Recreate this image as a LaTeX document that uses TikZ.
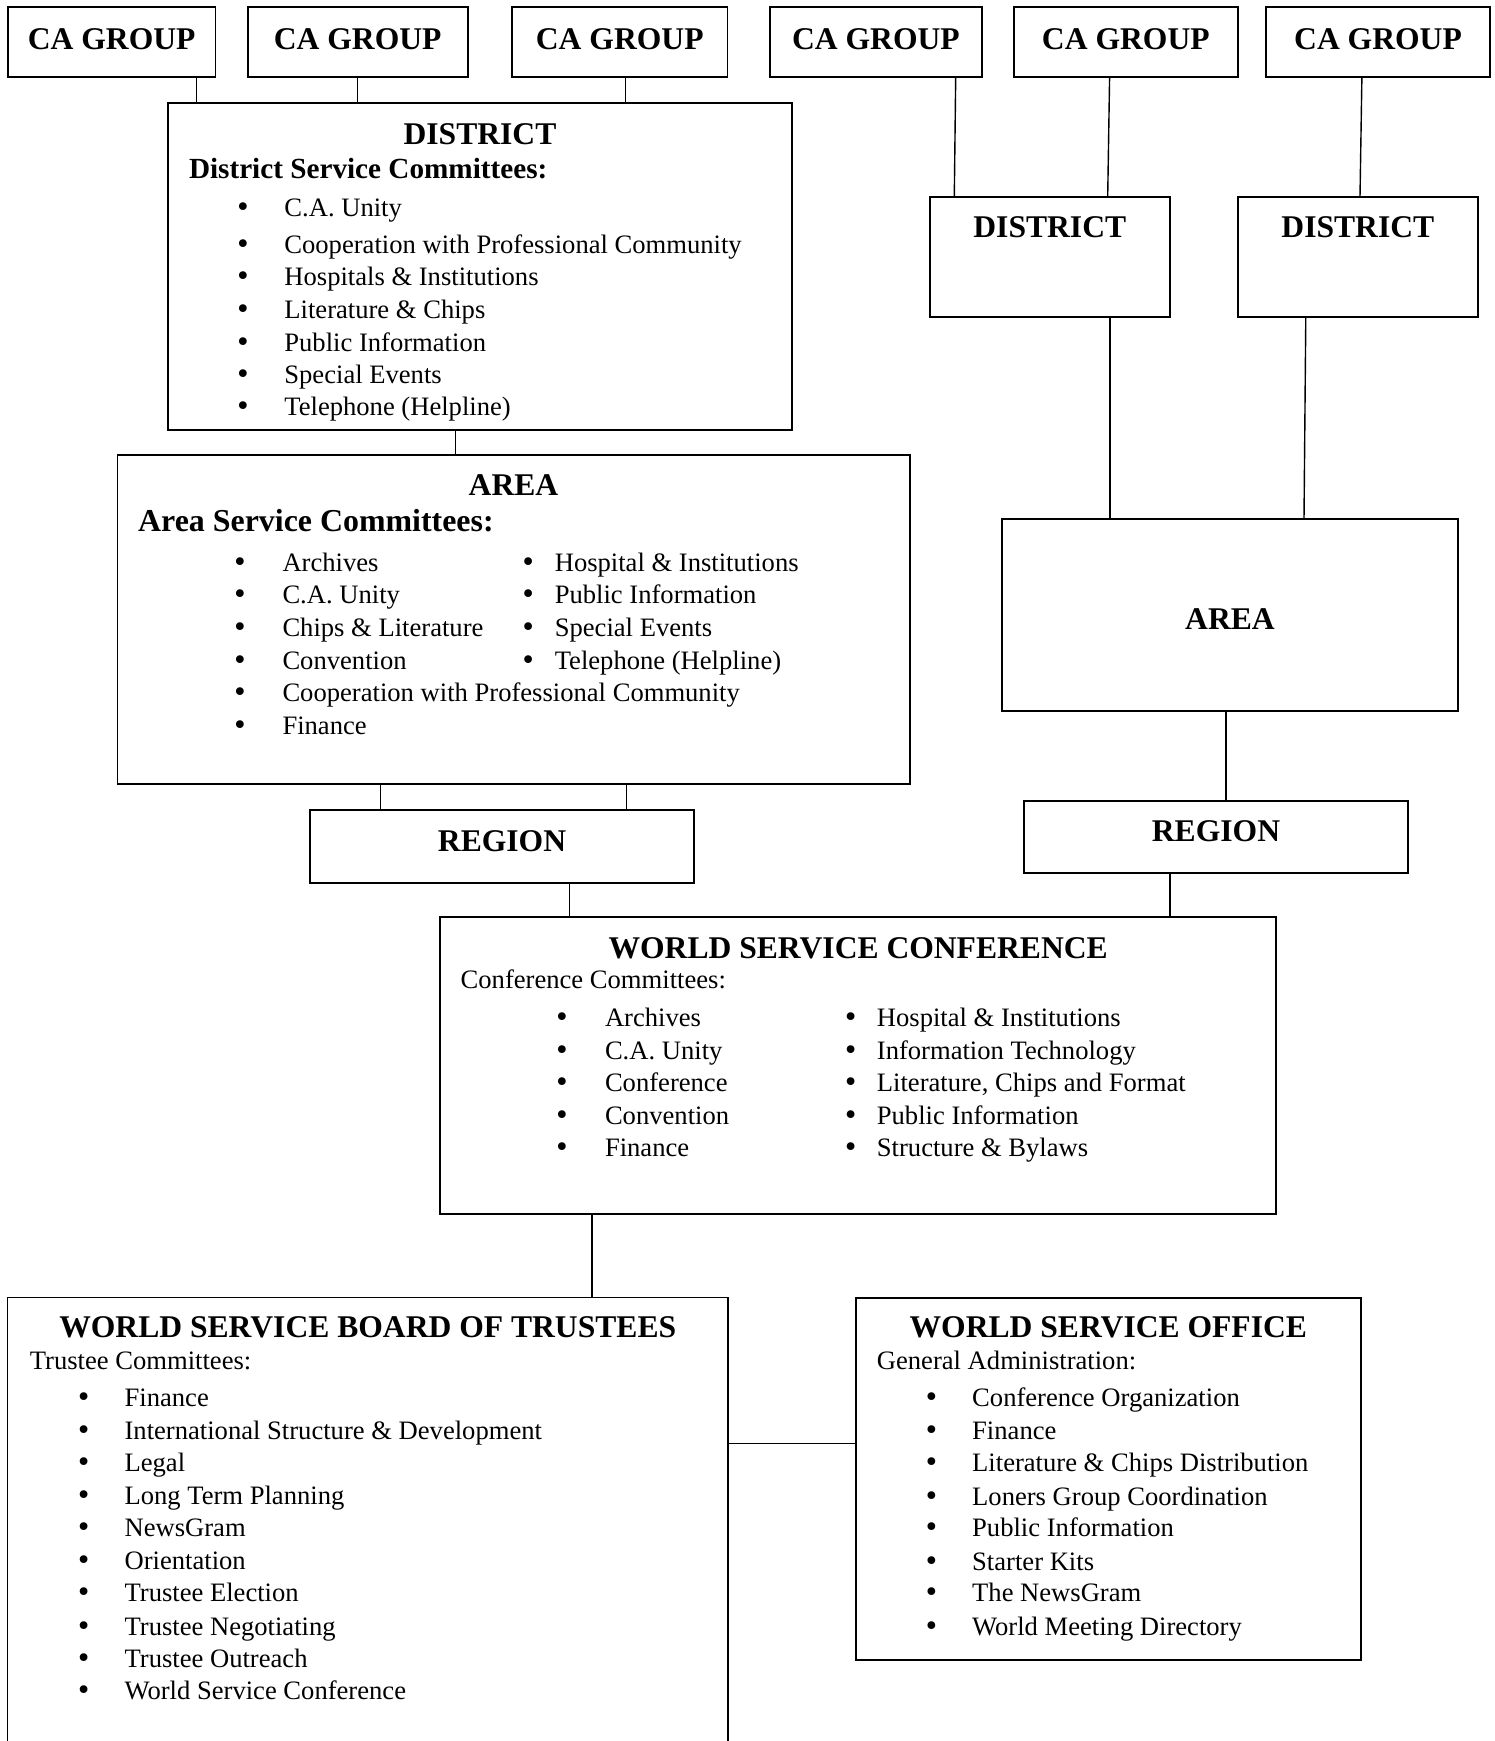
\documentclass[tikz,border=0pt]{standalone}
\usepackage{fontspec}
\setmainfont{Liberation Serif}
\newfontfamily\bulfont{DejaVu Sans}
\newcommand\fTitle{\fontsize{31.6}{36}\selectfont\bfseries}
\newcommand\fSubA{\fontsize{31.9}{36}\selectfont\bfseries}
\newcommand\fSubD{\fontsize{29.2}{34}\selectfont\bfseries}
\newcommand\fBody{\fontsize{26.6}{32}\selectfont}
\newcommand\fBul{\bulfont\fontsize{26.6}{30}\selectfont}
\newcommand\mkbox[5]{\node[box, minimum width={#4-#2}, minimum height={#5-#3}] (#1) at ({(#2+#4)/2},{(#3+#5)/2}) {};}
\begin{document}
\begin{tikzpicture}[x=1pt,y=-1pt,
  box/.style={draw, line width=1.8pt, rectangle, inner sep=0pt, outer sep=0pt},
  conn/.style={line width=1.4pt},
  ttl/.style={font=\fTitle, anchor=base, inner sep=0pt},
  subA/.style={font=\fSubA, anchor=base west, inner sep=0pt},
  subD/.style={font=\fSubD, anchor=base west, inner sep=0pt},
  subR/.style={font=\fBody, anchor=base west, inner sep=0pt},
  itm/.style={font=\fBody, anchor=base west, inner sep=0pt},
  bul/.style={font=\fBul, anchor=base, inner sep=0pt}]
\useasboundingbox (0,0) rectangle (1495,1741);

% ---- boxes ----
\mkbox{g1}{7.8}{7.3}{215.5}{76.7}
\mkbox{g2}{247.7}{7.3}{467.6}{76.7}
\mkbox{g3}{512}{7.3}{727.5}{76.7}
\mkbox{g4}{770}{7.3}{981.8}{76.7}
\mkbox{g5}{1013.7}{7.3}{1237.9}{76.7}
\mkbox{g6}{1266}{7.3}{1490}{76.7}
\mkbox{dA}{168}{103.3}{792}{430}
\mkbox{dB}{929.6}{196.7}{1170}{316.7}
\mkbox{dC}{1237.9}{196.7}{1477.8}{316.7}
\mkbox{aL}{117.4}{454.7}{909.6}{784.3}
\mkbox{aR}{1001.7}{519}{1458.3}{710.7}
\mkbox{rL}{309.9}{810}{694.2}{882.7}
\mkbox{rR}{1023.7}{800.7}{1408.3}{872.7}
\mkbox{wsc}{440}{916.7}{1276.3}{1214}
\mkbox{tr}{7.5}{1297.5}{728}{1780}
\mkbox{of}{856}{1298.3}{1360.6}{1660}

% ---- connectors ----
\draw[conn] (196.6,0 |- g1.south) -- (196.6,0 |- dA.north);
\draw[conn] (357.6,0 |- g2.south) -- (357.6,0 |- dA.north);
\draw[conn] (625.4,0 |- g3.south) -- (625.4,0 |- dA.north);
\draw[conn] (955.7,0 |- g4.south) -- (954.3,0 |- dB.north);
\draw[conn] (1109.6,0 |- g5.south) -- (1107.7,0 |- dB.north);
\draw[conn] (1361.9,0 |- g6.south) -- (1360,0 |- dC.north);
\draw[conn] (455.5,0 |- dA.south) -- (455.5,0 |- aL.north);
\draw[conn] (1110,0 |- dB.south) -- (1110,0 |- aR.north);
\draw[conn] (1305.8,0 |- dC.south) -- (1304,0 |- aR.north);
\draw[conn] (380.3,0 |- aL.south) -- (380.3,0 |- rL.north);
\draw[conn] (626.2,0 |- aL.south) -- (626.2,0 |- rL.north);
\draw[conn] (1226,0 |- aR.south) -- (1226,0 |- rR.north);
\draw[conn] (569.6,0 |- rL.south) -- (569.6,0 |- wsc.north);
\draw[conn] (1170,0 |- rR.south) -- (1170,0 |- wsc.north);
\draw[conn] (592,0 |- wsc.south) -- (592,0 |- tr.north);
\draw[conn] (tr.east |- 0,1443.3) -- (of.west |- 0,1443.3);

% ---- titles ----
\foreach \b in {g1,g2,g3,g4,g5,g6}
  \node[ttl] (t\b) at (\b.center |- 0,49.3) {CA GROUP};
\node[ttl] (tdA) at (dA.center |- 0,144) {DISTRICT};
\node[ttl] (tdB) at (dB.center |- 0,237.3) {DISTRICT};
\node[ttl] (tdC) at (dC.center |- 0,237.3) {DISTRICT};
\node[ttl] (taL) at (aL.center |- 0,495) {AREA};
\node[ttl] (taR) at (aR.center |- 0,629.3) {AREA};
\node[ttl] (trL) at (rL.center |- 0,851) {REGION};
\node[ttl] (trR) at (rR.center |- 0,841.7) {REGION};
\node[ttl] (twsc) at (wsc.center |- 0,958) {WORLD SERVICE CONFERENCE};
\node[ttl] (ttr) at (tr.center |- 0,1337) {WORLD SERVICE BOARD OF TRUSTEES};
\node[ttl] (tof) at (of.center |- 0,1337) {WORLD SERVICE OFFICE};

% ---- subtitles ----
\node[subD] (sdA) at (188.8,178.3) {District Service Committees:};
\node[subA] (saL) at (138,531.7) {Area Service Committees:};
\node[subR] (swsc) at (460.5,988) {Conference Committees:};
\node[subR] (str) at (29.7,1369) {Trustee Committees:};
\node[subR] (sof) at (876.7,1369) {General Administration:};

% ---- lists ----
\foreach \y/\t [count=\i] in {216.7/C.A. Unity, 253.4/Cooperation with Professional Community,
  285.1/Hospitals \& Institutions, 318.4/Literature \& Chips, 351.1/Public Information,
  383.4/Special Events, 415.7/Telephone (Helpline)}{
  \node[bul] (dAb\i) at (243,\y) {•};
  \node[itm] (dAi\i) at (284.2,\y) {\t};
}
\foreach \y/\t [count=\i] in {571.7/Archives, 603.4/C.A. Unity, 636.1/Chips \& Literature,
  669.1/Convention, 701.7/Cooperation with Professional Community, 734.1/Finance}{
  \node[bul] (aLb\i) at (240,\y) {•};
  \node[itm] (aLi\i) at (282.3,\y) {\t};
}
\foreach \y/\t [count=\i] in {571.7/Hospital \& Institutions, 603.4/Public Information,
  636.1/Special Events, 669.1/Telephone (Helpline)}{
  \node[bul] (aLc\i) at (528.2,\y) {•};
  \node[itm] (aLj\i) at (554.6,\y) {\t};
}
\foreach \y/\t [count=\i] in {1026.7/Archives, 1059.1/C.A. Unity, 1091.7/Conference,
  1124.4/Convention, 1156.7/Finance}{
  \node[bul] (wb\i) at (562,\y) {•};
  \node[itm] (wi\i) at (604.8,\y) {\t};
}
\foreach \y/\t [count=\i] in {1026.7/Hospital \& Institutions, 1059.1/Information Technology,
  1091.7/{Literature, Chips and Format}, 1124.4/Public Information, 1156.7/Structure \& Bylaws}{
  \node[bul] (wc\i) at (850.6,\y) {•};
  \node[itm] (wj\i) at (876.7,\y) {\t};
}
\foreach \y/\t [count=\i] in {1406.7/Finance, 1439.1/International Structure \& Development,
  1471.7/Legal, 1504.4/Long Term Planning, 1536.7/NewsGram, 1569.4/Orientation,
  1601.7/Trustee Election, 1635.1/Trustee Negotiating, 1667.4/Trustee Outreach,
  1699.4/World Service Conference}{
  \node[bul] (tb\i) at (83.7,\y) {•};
  \node[itm] (ti\i) at (124.4,\y) {\t};
}
\foreach \y/\t [count=\i] in {1406.7/Conference Organization, 1439.1/Finance,
  1471.7/Literature \& Chips Distribution, 1505.1/Loners Group Coordination,
  1536.7/Public Information, 1570.1/Starter Kits, 1601.7/The NewsGram,
  1635.1/World Meeting Directory}{
  \node[bul] (ob\i) at (931.4,\y) {•};
  \node[itm] (oi\i) at (972,\y) {\t};
}
\end{tikzpicture}
\end{document}
